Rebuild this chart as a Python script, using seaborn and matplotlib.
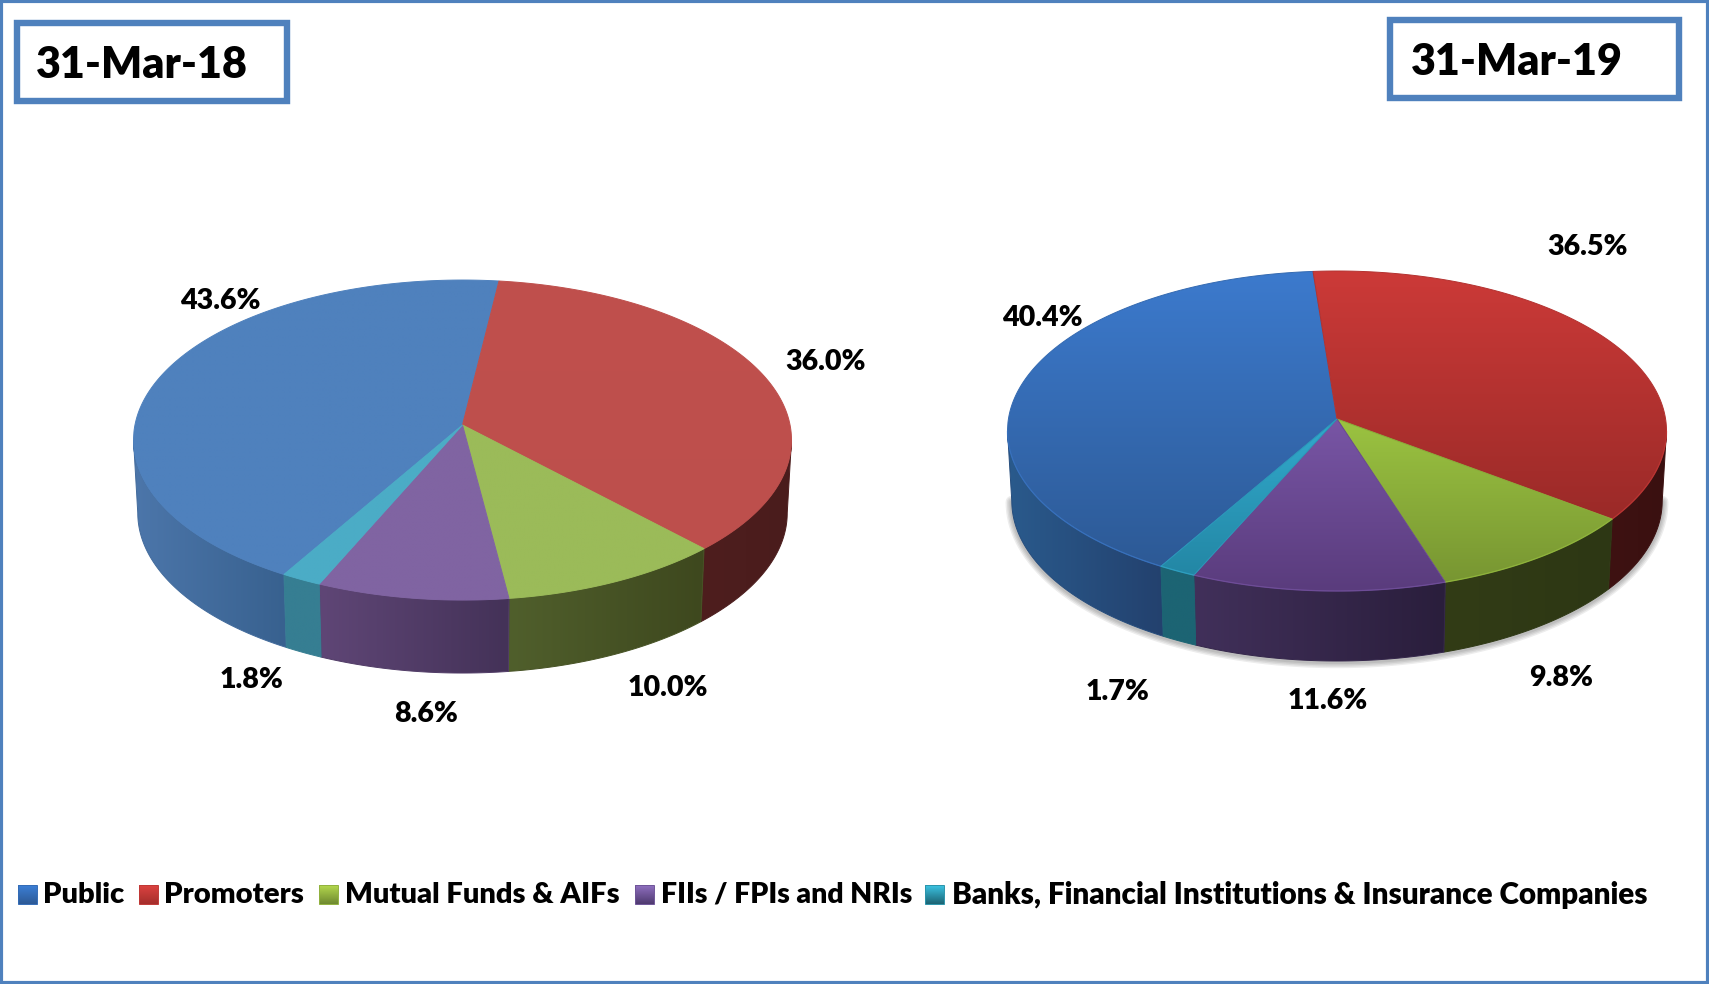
import numpy as np
import matplotlib
matplotlib.use("Agg")
import matplotlib.pyplot as plt
from matplotlib.patches import Polygon, Rectangle
import seaborn as sns

# Data
categories = ["Public", "Promoters", "Mutual Funds & AIFs", "FIIs / FPIs and NRIs",
              "Banks, Financial Institutions & Insurance Companies"]
dates = ["31-Mar-18", "31-Mar-19"]
values_18 = [43.6, 36.0, 10.0, 8.6, 1.8]
values_19 = [40.4, 36.5, 9.8, 11.6, 1.7]

# Colours: top face (start, end of gradient), wall (left, right)
top_18 = [("#4f81bd", "#4f81bd"), ("#c0504d", "#bd4f4c"), ("#9bbb59", "#9bbb59"),
          ("#8064a2", "#8064a2"), ("#4bacc6", "#4bacc6")]
wall_18 = [("#4c76aa", "#38618f"), ("#4e1e1e", "#4a1c1c"), ("#505f2c", "#3e481e"),
           ("#5f4676", "#443258"), ("#367e92", "#367e92")]
top_19 = [("#3c7acd", "#2d5a96"), ("#cc3a38", "#9b2a28"), ("#9bc341", "#789632"),
          ("#7855a5", "#5a3c7d"), ("#32aacd", "#2387a5")]
wall_19 = [("#2a5a8c", "#23416e"), ("#3e1212", "#3a1010"), ("#323c16", "#2d3714"),
           ("#41305a", "#2a1e3c"), ("#1c6473", "#1c6473")]
swatches = [("#3c7fd6", "#2d5a96"), ("#dc4340", "#a52e2c"), ("#b4d84e", "#6f8a30"),
            ("#9070c0", "#4f3a70"), ("#3cc4e4", "#1c6473")]

frame_color = "#4f81bd"

sns.set_theme(style="white")
plt.rcParams["font.family"] = ["Lato", "DejaVu Sans"]

fig = plt.figure(figsize=(17.09, 9.84), dpi=100)
ax = fig.add_axes([0, 0, 1, 1])
ax.set_xlim(0, 1709)
ax.set_ylim(984, 0)
ax.set_autoscale_on(False)
ax.axis("off")


def shade(xs, ys, c1, c2, vertical, z):
    # gradient image clipped to a polygon
    pal = np.array(sns.blend_palette([c1, c2], n_colors=64))
    img = pal[:, None, :] if vertical else pal[None, :, :]
    pts = np.column_stack([xs, ys])
    im = ax.imshow(img, extent=(min(xs), max(xs), max(ys), min(ys)), aspect="auto",
                   origin="upper", zorder=z, interpolation="bilinear")
    im.set_clip_path(Polygon(pts, closed=True, transform=ax.transData))
    mid = np.array(sns.blend_palette([c1, c2], n_colors=3)[1])
    ax.add_patch(Polygon(pts, closed=True, fill=False, edgecolor=mid, lw=0.7, zorder=z))


def project(t, cx, cy, rx, ry, q):
    # circle seen in perspective, cx/cy is where the pie centre lands
    u, v = np.cos(np.radians(t)), np.sin(np.radians(t))
    sx = rx * np.sqrt(1 - q ** 2)
    sy = ry * (1 - q ** 2)
    return cx + sx * u / (1 + q * v), cy - sy * v / (1 + q * v)


def pie3d(values, start, cx, cy, rx, ry, q, depth, tops, walls, glossy=False):
    # start is the angle where the first slice begins, slices run clockwise
    edges = start - np.concatenate([[0], np.cumsum(values)]) / sum(values) * 360
    a = np.degrees(np.arcsin(q))
    front_hi, front_lo = -a, -180 + a
    taper = 0.987

    if glossy:
        t = np.linspace(front_lo, front_hi, 200)
        x, y = project(t, cx, cy, rx, ry, q)
        for w in [9, 7, 5, 3]:
            ax.plot(cx + (x - cx) * taper, y + depth + 1, color="black", lw=w, alpha=0.07, zorder=1,
                    solid_capstyle="round")

    def front_part(t1, t2):
        # piece of a slice on the near side of the pie
        for shift in (0, -360):
            hi, lo = min(t1 + shift, front_hi), max(t2 + shift, front_lo)
            if hi > lo:
                return hi, lo
        return None

    for i in range(len(values)):
        part = front_part(edges[i], edges[i + 1])
        if part:
            t = np.linspace(part[0], part[1], 80)
            x, y = project(t, cx, cy, rx, ry, q)
            xb = cx + (x - cx) * taper
            xs = np.concatenate([x, xb[::-1]])
            ys = np.concatenate([y, (y + depth)[::-1]])
            shade(xs, ys, walls[i][0], walls[i][1], False, 2)

    for i in range(len(values)):
        t = np.linspace(edges[i], edges[i + 1], 160)
        x, y = project(t, cx, cy, rx, ry, q)
        xs = np.concatenate([[cx], x])
        ys = np.concatenate([[cy], y])
        shade(xs, ys, tops[i][0], tops[i][1], True, 3)
        part = front_part(edges[i], edges[i + 1])
        if glossy and part:
            x, y = project(np.linspace(part[0], part[1], 80), cx, cy, rx, ry, q)
            ax.plot(x, y, color=tops[i][0], lw=1, alpha=0.45, zorder=4)


def labels(values, positions):
    for v, (x, y) in zip(values, positions):
        ax.text(x, y, f"{v:.1f}%", ha="center", va="center", fontsize=20.6,
                fontweight=800, color="black", zorder=6)


def date_box(text, x0, y0, x1, y1, tx, ty):
    ax.add_patch(Rectangle((x0, y0), x1 - x0, y1 - y0, fill=False, edgecolor=frame_color,
                           lw=4.6, zorder=5))
    ax.text(tx, ty, text, ha="left", va="center", fontsize=31, fontweight=800,
            color="black", zorder=6)


# outer frame
ax.add_patch(Rectangle((1, 1), 1707, 982, fill=False, edgecolor=frame_color, lw=3, zorder=5))

date_box(dates[0], 17, 23, 287, 101, 36, 65)
date_box(dates[1], 1390, 20, 1679, 98, 1411, 62)

pie3d(values_18, 83.0 + 43.6 * 3.6, 462.5, 425, 329, 160, 0.094, 73, top_18, wall_18)
pie3d(values_19, 94.5 + 40.4 * 3.6, 1337, 419, 329.5, 160, 0.075, 70, top_19, wall_19, glossy=True)

labels(values_18, [(220, 301), (826, 362), (668, 688), (426, 714), (252, 680)])
labels(values_19, [(1042, 318), (1588, 247), (1561, 678), (1328, 701), (1118, 692)])

# legend
swatch_x = [18, 139, 319, 635, 925]
text_x = [43, 164, 345, 661, 952]
text_size = [21, 21.1, 21, 20.4, 21.3]
for name, c, sx, tx, fs in zip(categories, swatches, swatch_x, text_x, text_size):
    shade([sx, sx + 19, sx + 19, sx], [885, 885, 904, 904], c[0], c[1], True, 3)
    ax.text(tx, 895, name, ha="left", va="center", fontsize=fs, fontweight=800,
            color="black", zorder=6)

fig.savefig("out.png", dpi=100, facecolor="white")
